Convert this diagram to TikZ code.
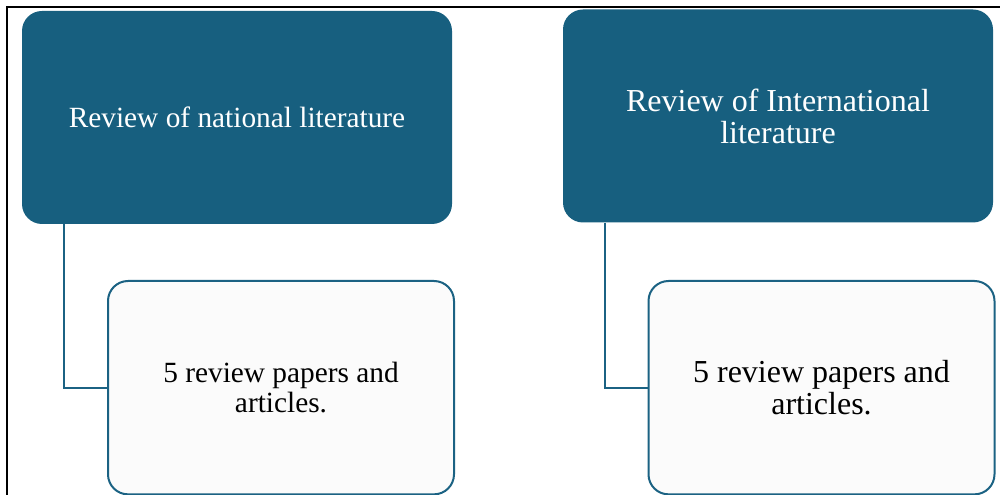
\documentclass[tikz,border=0pt]{standalone}
\usepackage{fontspec}
\setmainfont{Liberation Serif}
\definecolor{headblue}{HTML}{175F7F}
\definecolor{lineblue}{HTML}{1B6283}
\definecolor{paleface}{HTML}{FBFBFB}
\begin{document}
\begin{tikzpicture}[x=1pt,y=1pt]
        \tikzstyle{review}=[rectangle,rounded corners=15pt,fill=headblue,text=white,minimum width=322.5pt,minimum height=159.75pt,align=center,font=\fontsize{22}{24}\selectfont,inner sep=0pt]
        \tikzstyle{count}=[rectangle,rounded corners=15pt,draw=lineblue,line width=1.5pt,fill=paleface,minimum width=259.5pt,minimum height=160pt,align=center,inner sep=0pt]
        \tikzstyle{edge}=[draw=lineblue,line width=1.5pt]
        \useasboundingbox (0,0) rectangle (750,-371.25);
        \draw[line width=0.9pt] (5.25,-371.25) -- (5.25,-5.25) -- (750,-5.25);
       \begin{scope}
         \node [review] (nat) at (177.75,-88.125) {Review of national literature};
         \node [review,font=\fontsize{24}{24}\selectfont] (int) at (583.5,-87) {Review of International\\literature};
         \node [count,font=\fontsize{22}{22.5}\selectfont] (natp) at (210.75,-290.75) {5 review papers and\\articles.};
         \node [count,font=\fontsize{24}{24}\selectfont] (intp) at (616.125,-290.75) {5 review papers and\\articles.};
         \path[edge] ([xshift=31.5pt]nat.south west) |- (natp.west);
         \path[edge] ([xshift=31.5pt]int.south west) |- (intp.west);
        \end{scope}
      \end{tikzpicture}
\end{document}
